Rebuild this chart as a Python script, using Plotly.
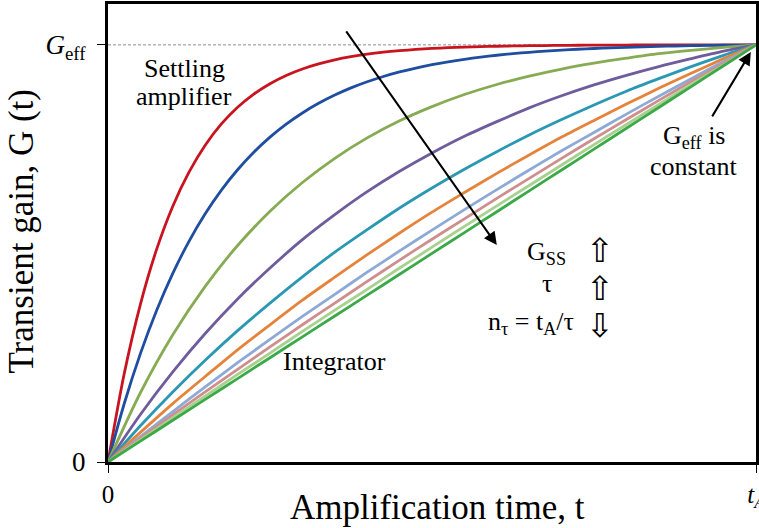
import plotly.graph_objects as go

# Normalised amplification time t / t_A
t_fine = [i * 0.025 for i in range(41)]
t_std = [i * 0.05 for i in range(21)]

# Transient gain G(t)/G_eff (settling amplifier -> integrator)
red = [0, 0.2114, 0.3781, 0.5096, 0.6133, 0.6950, 0.7595, 0.8104, 0.8505, 0.8821, 0.9070,
       0.9267, 0.9422, 0.9544, 0.9641, 0.9717, 0.9777, 0.9824, 0.9861, 0.9891, 0.9914,
       0.9932, 0.9947, 0.9958, 0.9967, 0.9974, 0.9980, 0.9984, 0.9988, 0.9991, 0.9993,
       0.9994, 0.9996, 0.9997, 0.9998, 0.9998, 0.9999, 0.9999, 1.0, 1.0, 1.0]
blue = [0, 0.1396, 0.2598, 0.3633, 0.4523, 0.5289, 0.5949, 0.6517, 0.7006, 0.7426, 0.7788,
        0.8100, 0.8368, 0.8599, 0.8797, 0.8968, 0.9115, 0.9242, 0.9351, 0.9445, 0.9526,
        0.9595, 0.9655, 0.9707, 0.9751, 0.9789, 0.9822, 0.9850, 0.9875, 0.9895, 0.9913,
        0.9929, 0.9942, 0.9954, 0.9964, 0.9972, 0.9980, 0.9986, 0.9991, 0.9996, 1.0]
olive = [0, 0.166, 0.305, 0.421, 0.519, 0.601, 0.670, 0.728, 0.777, 0.818, 0.852, 0.881,
         0.905, 0.925, 0.942, 0.956, 0.968, 0.979, 0.987, 0.994, 1.0]
purple = [0, 0.114, 0.216, 0.308, 0.391, 0.465, 0.533, 0.593, 0.648, 0.697, 0.741, 0.781,
          0.816, 0.849, 0.878, 0.904, 0.927, 0.948, 0.967, 0.985, 1.0]
teal = [0, 0.087, 0.168, 0.244, 0.315, 0.381, 0.444, 0.503, 0.557, 0.609, 0.657, 0.702,
        0.744, 0.784, 0.821, 0.856, 0.889, 0.919, 0.948, 0.975, 1.0]
orange = [0, 0.071, 0.140, 0.205, 0.269, 0.329, 0.388, 0.443, 0.497, 0.549, 0.599, 0.646,
          0.692, 0.736, 0.779, 0.819, 0.858, 0.896, 0.932, 0.967, 1.0]
lightblue = [0, 0.061, 0.121, 0.180, 0.238, 0.294, 0.349, 0.402, 0.455, 0.506, 0.556, 0.605,
             0.653, 0.700, 0.746, 0.790, 0.834, 0.877, 0.919, 0.960, 1.0]
pink = [0, 0.057, 0.113, 0.168, 0.222, 0.276, 0.329, 0.381, 0.433, 0.484, 0.534, 0.583,
        0.632, 0.680, 0.728, 0.775, 0.821, 0.867, 0.912, 0.956, 1.0]
palegreen = [0, 0.053, 0.106, 0.158, 0.210, 0.261, 0.313, 0.364, 0.414, 0.465, 0.515, 0.565,
             0.614, 0.663, 0.712, 0.761, 0.809, 0.857, 0.905, 0.952, 1.0]
integrator = [0, 0.05, 0.1, 0.15, 0.2, 0.25, 0.3, 0.35, 0.4, 0.45, 0.5, 0.55, 0.6, 0.65,
              0.7, 0.75, 0.8, 0.85, 0.9, 0.95, 1.0]

series = [(t_fine, red), (t_fine, blue), (t_std, olive), (t_std, purple), (t_std, teal),
          (t_std, orange), (t_std, lightblue), (t_std, pink), (t_std, palegreen),
          (t_std, integrator)]
colors = ["#C8141E", "#1F4EA0", "#86AB52", "#6E5C9C", "#2A98B2", "#E5833B",
          "#8DAAD6", "#CF8E8E", "#A8D08E", "#3CA948"]

x_ticks = [0, 1]
x_ticklabels = ["0", "<i>t<sub>A</sub></i>"]
y_ticks = [0, 1]
y_ticklabels = ["0", "<i>G</i><sub>eff</sub>"]

SERIF = "Liberation Serif"

fig = go.Figure()

# G_eff dashed reference
fig.add_trace(go.Scatter(x=[0, 1], y=[1, 1], mode="lines",
                         line=dict(color="#8C8C8C", width=1, dash="3px,2px"),
                         hoverinfo="skip", showlegend=False))

for (xs, ys), c in zip(series, colors):
    fig.add_trace(go.Scatter(x=xs, y=ys, mode="lines",
                             line=dict(color=c, width=2.8, shape="spline", smoothing=0.8),
                             showlegend=False))


def label(x, y, text, size=26, family=SERIF):
    return dict(x=x, y=y, xref="x", yref="y", text=text, showarrow=False,
                xanchor="center", yanchor="middle",
                font=dict(family=family, size=size, color="black"))


annotations = [
    label(0.118, 0.944, "Settling"),
    label(0.118, 0.876, "amplifier"),
    label(0.350, 0.240, "Integrator"),
    label(0.677, 0.501, "G<sub>SS</sub>"),
    label(0.677, 0.427, "τ"),
    label(0.653, 0.333, "n<sub>τ</sub> = t<sub>A</sub>/τ"),
    label(0.759, 0.508, "⇧", size=33, family="DejaVu Sans"),
    label(0.759, 0.415, "⇧", size=33, family="DejaVu Sans"),
    label(0.759, 0.327, "⇩", size=33, family="DejaVu Sans"),
    label(0.904, 0.779, "G<sub>eff</sub> is"),
    label(0.904, 0.708, "constant"),
    # main trend arrow
    dict(x=0.600, y=0.520, ax=0.366, ay=1.036, xref="x", yref="y", axref="x", ayref="y",
         text="", showarrow=True, arrowhead=2, arrowsize=1.3, arrowwidth=2, arrowcolor="black"),
    # G_eff constant arrow
    dict(x=0.992, y=0.983, ax=0.931, ay=0.825, xref="x", yref="y", axref="x", ayref="y",
         text="", showarrow=True, arrowhead=2, arrowsize=1.3, arrowwidth=2, arrowcolor="black"),
    # axis titles
    dict(x=0.509, y=-0.10, xref="x", yref="paper", text="Amplification time, t",
         showarrow=False, xanchor="center", yanchor="middle",
         font=dict(family=SERIF, size=35, color="black")),
    dict(x=-0.133, y=0.505, xref="paper", yref="paper", text="Transient gain, G (t)",
         textangle=-90, showarrow=False, xanchor="center", yanchor="middle",
         font=dict(family=SERIF, size=35, color="black")),
]

fig.update_layout(
    width=759, height=528,
    margin=dict(l=108, r=3, t=4, b=66, autoexpand=False),
    paper_bgcolor="white", plot_bgcolor="white",
    annotations=annotations,
    xaxis=dict(range=[0, 1], tickvals=x_ticks, ticktext=x_ticklabels, automargin=False,
               showgrid=False, zeroline=False, showline=True, linecolor="black",
               linewidth=3, mirror=True, ticks="outside", ticklen=8, tickwidth=1.2,
               tickcolor="black", ticklabeloverflow="allow",
               tickfont=dict(family=SERIF, size=25, color="black")),
    yaxis=dict(range=[0, 1.098], tickvals=y_ticks, ticktext=y_ticklabels, automargin=False,
               showgrid=False, zeroline=False, showline=True, linecolor="black",
               linewidth=3, mirror=True, ticks="outside", ticklen=8, tickwidth=1.2,
               tickcolor="black", ticklabelstandoff=6,
               tickfont=dict(family=SERIF, size=27, color="black")),
)

fig.write_html("out.html")
